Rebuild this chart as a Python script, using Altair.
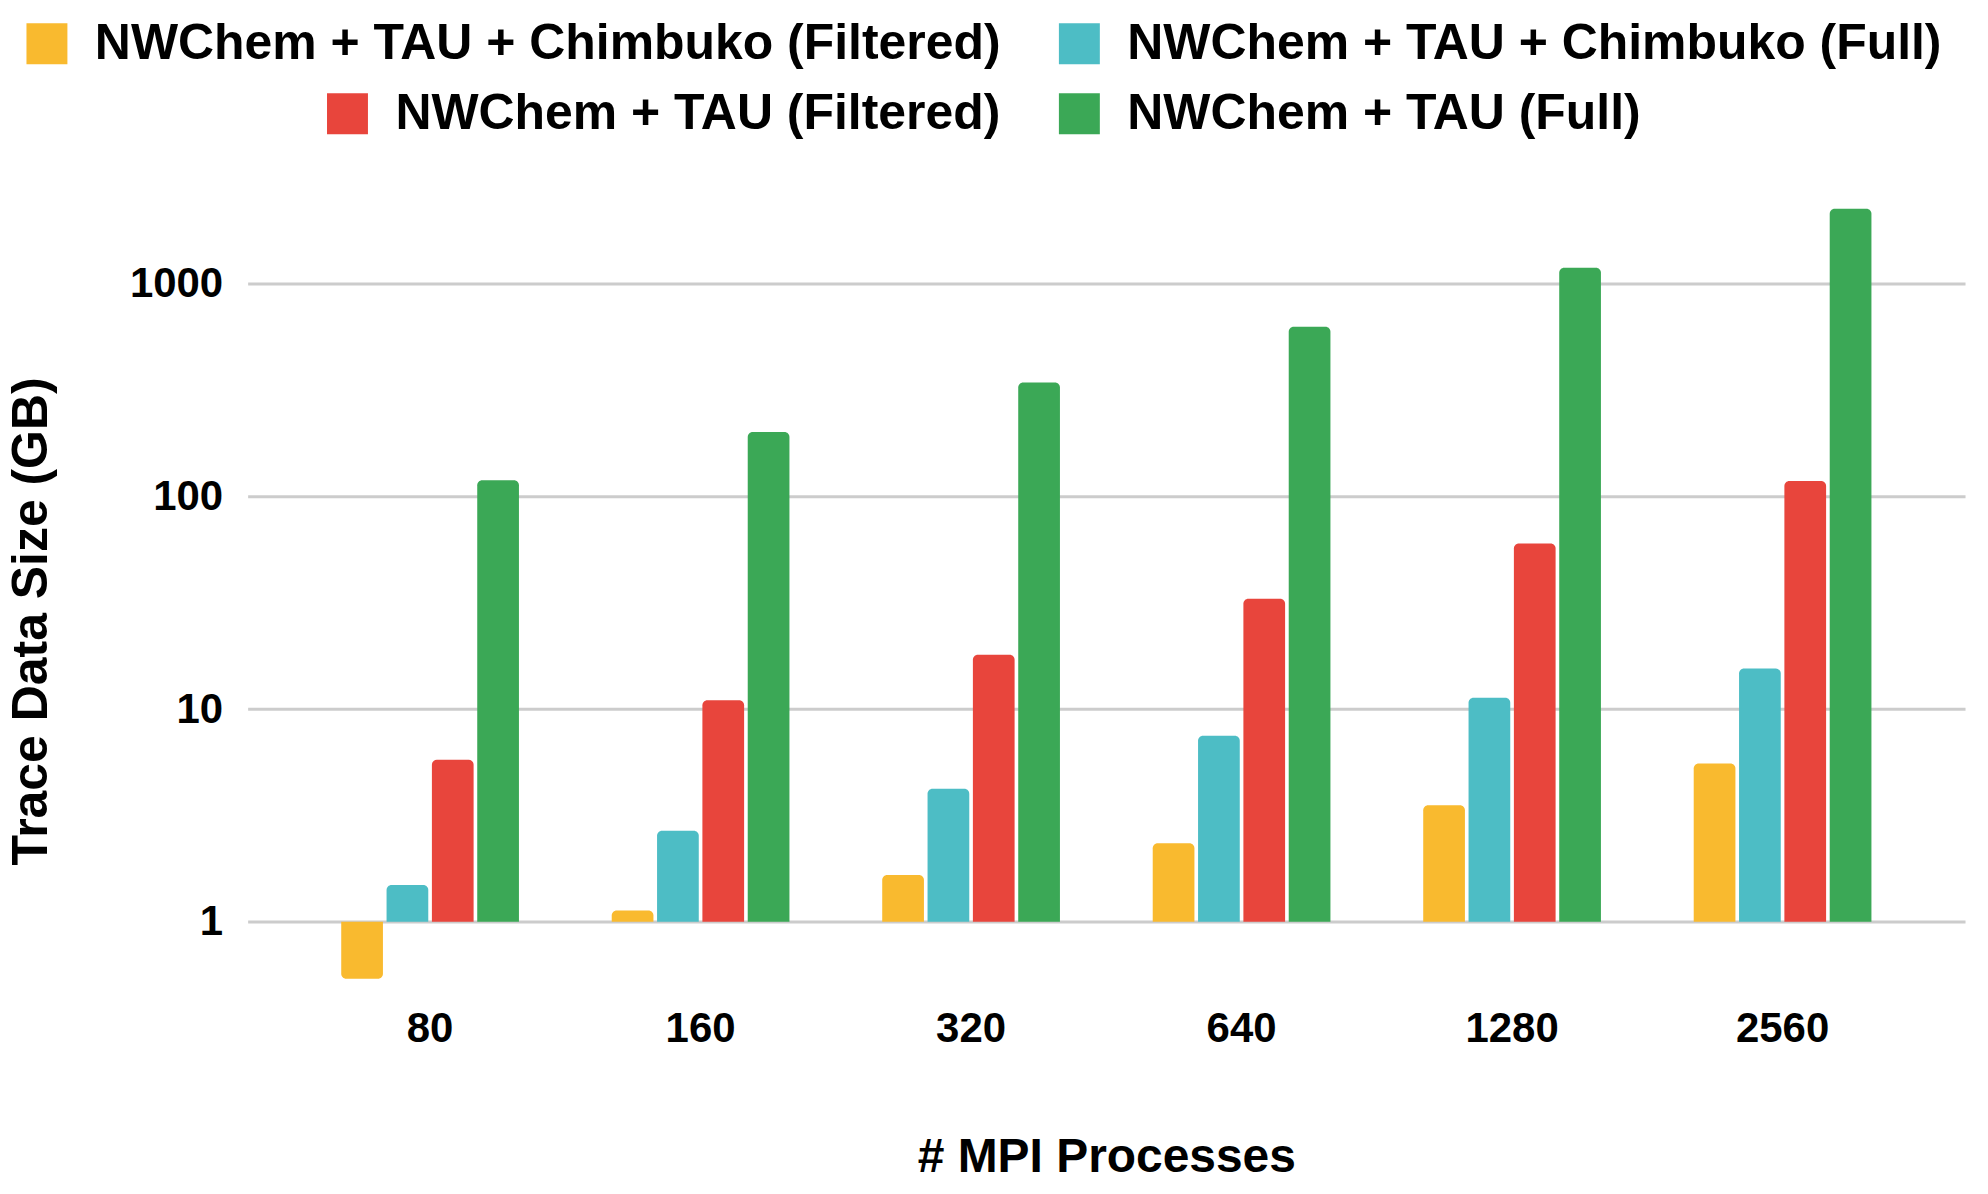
import altair as alt
import pandas as pd

procs = ["80", "160", "320", "640", "1280", "2560"]
series = [
    "NWChem + TAU + Chimbuko (Filtered)",
    "NWChem + TAU + Chimbuko (Full)",
    "NWChem + TAU (Filtered)",
    "NWChem + TAU (Full)",
]
colors = ["#F9BA2F", "#4DBDC5", "#E8453C", "#3BA856"]

chimbuko_filtered = [0.54, 1.13, 1.66, 2.34, 3.53, 5.55]
chimbuko_full = [1.49, 2.68, 4.22, 7.5, 11.3, 15.5]
tau_filtered = [5.78, 11.0, 18.0, 33.0, 60.0, 118.0]
tau_full = [119.0, 201.0, 343.0, 628.0, 1190.0, 2250.0]

rows = []
for name, vals in zip(series, [chimbuko_filtered, chimbuko_full, tau_filtered, tau_full]):
    for p, v in zip(procs, vals):
        rows.append({"procs": p, "series": name, "value": v})
df = pd.DataFrame(rows)

FONT = "Liberation Sans"

x_enc = alt.X(
    "procs:N",
    sort=procs,
    title="# MPI Processes",
    scale=alt.Scale(paddingInner=0.343, paddingOuter=0.346),
    axis=alt.Axis(
        labelAngle=0, ticks=False, domain=False, grid=False,
        labelFont=FONT, labelFontSize=42, labelFontWeight="bold", labelColor="#000000",
        labelPadding=2,
        titleFont=FONT, titleFontSize=48, titleFontWeight="bold", titleColor="#000000",
        titleY=151, titleBaseline="middle",
    ),
)
y_enc = alt.Y(
    "value:Q",
    title="Trace Data Size (GB)",
    scale=alt.Scale(type="log", domain=[0.4, 4000]),
    axis=alt.Axis(
        values=[1, 10, 100, 1000], format="d",
        grid=True, gridColor="#CCCCCC", gridWidth=3,
        domain=False, ticks=False, tickSize=0, labelPadding=25,
        labelFont=FONT, labelFontSize=42, labelFontWeight="bold", labelColor="#000000",
        titleFont=FONT, titleFontSize=50, titleFontWeight="bold", titleColor="#000000",
        titleX=-216, titleY=466, titleBaseline="middle", titleAlign="center",
    ),
)
xoff = alt.XOffset(
    "series:N", sort=series,
    scale=alt.Scale(domain=series, paddingInner=0.08, paddingOuter=0),
)

bar = alt.Chart(df).mark_bar(
    cornerRadiusTopLeft={"expr": "datum.value >= 1 ? 5 : 0"},
    cornerRadiusTopRight={"expr": "datum.value >= 1 ? 5 : 0"},
    cornerRadiusBottomLeft={"expr": "datum.value < 1 ? 5 : 0"},
    cornerRadiusBottomRight={"expr": "datum.value < 1 ? 5 : 0"},
)

legend_common = dict(
    orient="none", direction="horizontal", title=None, padding=0,
    symbolType="square", symbolSize=1681, symbolStrokeWidth=0,
    labelFont=FONT, labelFontSize=50, labelFontWeight="bold", labelColor="#000000",
    labelLimit=2000, labelOffset=23, columnPadding=53,
)

layer_a = bar.transform_filter(
    alt.FieldOneOfPredicate(field="series", oneOf=series[:2])
).encode(
    x=x_enc, y=y_enc, y2=alt.datum(1), xOffset=xoff,
    color=alt.Color(
        "series:N",
        scale=alt.Scale(domain=series[:2], range=colors[:2]),
        legend=alt.Legend(legendX=-226, legendY=-137, **legend_common),
    ),
)
layer_b = bar.transform_filter(
    alt.FieldOneOfPredicate(field="series", oneOf=series[2:])
).encode(
    x=x_enc, y=y_enc, y2=alt.datum(1), xOffset=xoff,
    fill=alt.Fill(
        "series:N",
        scale=alt.Scale(domain=series[2:], range=colors[2:]),
        legend=alt.Legend(legendX=75, legendY=-67, **legend_common),
    ),
)

chart = alt.layer(layer_a, layer_b).properties(
    width=1720,
    height=852,
    background="white",
    autosize=alt.AutoSizeParams(type="none"),
    padding={"left": 240, "top": 147, "right": 15, "bottom": 180},
).configure_view(strokeWidth=0, stroke="transparent")

chart.save("out.html", embed_options={"renderer": "svg", "actions": False})
